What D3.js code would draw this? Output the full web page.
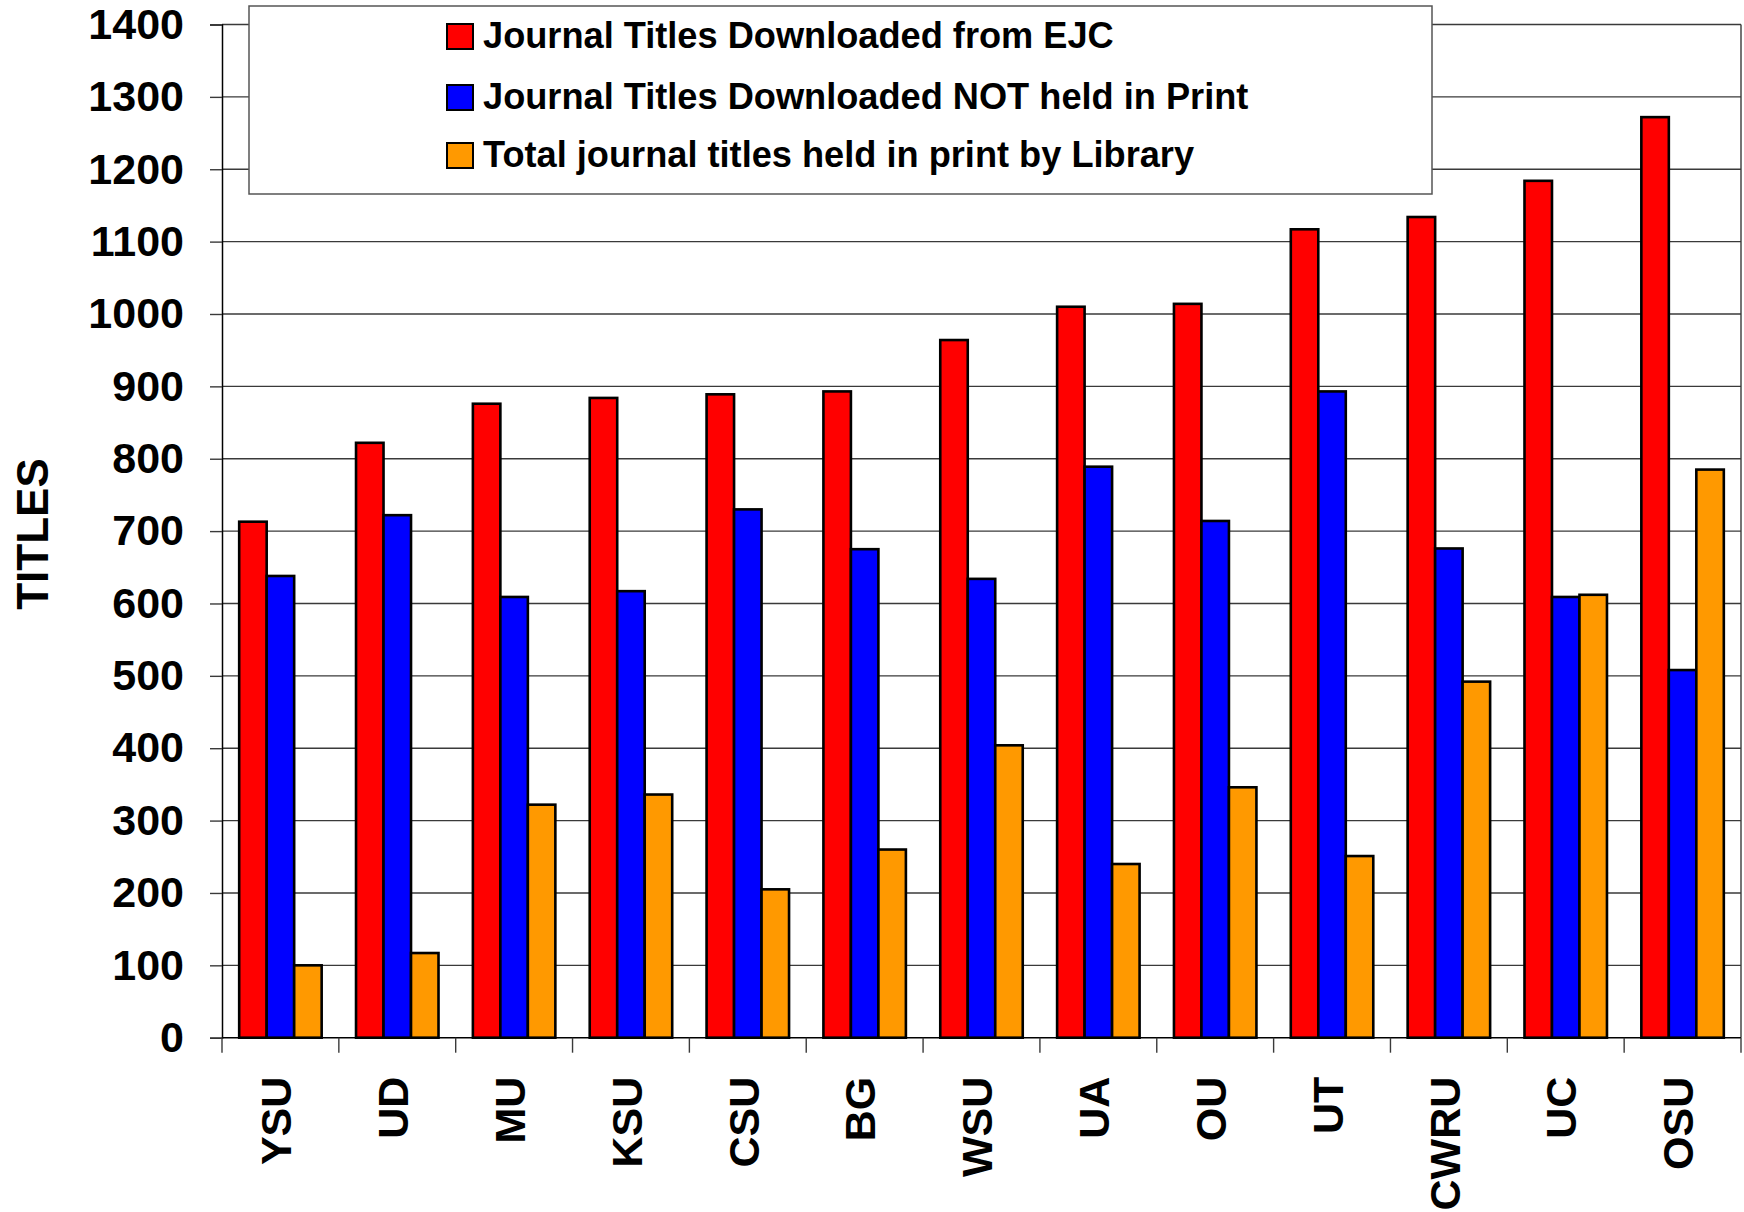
<!DOCTYPE html>
<html>
<head>
<meta charset="utf-8">
<script src="https://cdn.jsdelivr.net/npm/d3@7"></script>
<style>
  html, body { margin: 0; padding: 0; background: #fff; }
  svg { display: block; }
  text { font-family: "Liberation Sans", Arial, sans-serif; font-weight: bold; fill: #000; }
</style>
</head>
<body>
<svg id="chart" width="1744" height="1212"></svg>
<script>
  const categories = ["YSU", "UD", "MU", "KSU", "CSU", "BG", "WSU", "UA", "OU", "UT", "CWRU", "UC", "OSU"];
  const downloaded = [713, 822, 876, 884, 889, 893, 964, 1010, 1014, 1117, 1134, 1184, 1272];
  const notInPrint = [638, 722, 609, 617, 730, 675, 634, 789, 714, 893, 676, 609, 508];
  const heldInPrint = [100, 117, 322, 336, 205, 260, 404, 240, 346, 251, 492, 612, 785];
  const seriesNames = [
    "Journal Titles Downloaded from EJC",
    "Journal Titles Downloaded NOT held in Print",
    "Total journal titles held in print by Library"
  ];
  const yTicks = d3.range(0, 1401, 100);

  const colors = ["#ff0000", "#0000ff", "#ff9900"];
  const seriesValues = [downloaded, notInPrint, heldInPrint];

  const svg = d3.select("#chart");
  const plot = { left: 222, right: 1741, top: 24.5, bottom: 1037.7 };

  const x = d3.scaleBand().domain(categories).range([plot.left, plot.right]);
  const x1 = d3.scaleBand().domain(d3.range(3)).range([0, x.bandwidth()]).paddingOuter(0.625);
  const y = d3.scaleLinear().domain([0, 1400]).range([plot.bottom, plot.top]);

  // gridlines
  svg.append("g")
    .selectAll("line")
    .data(yTicks.filter((t) => t > 0))
    .join("line")
    .attr("x1", plot.left)
    .attr("x2", plot.right)
    .attr("y1", (t) => y(t))
    .attr("y2", (t) => y(t))
    .attr("stroke", "#3a3a3a")
    .attr("stroke-width", 1.4);

  // right border of plot area
  svg.append("line")
    .attr("x1", plot.right).attr("x2", plot.right)
    .attr("y1", plot.top).attr("y2", plot.bottom)
    .attr("stroke", "#3a3a3a")
    .attr("stroke-width", 1.4);

  // bars
  const rows = categories.map((c, i) => ({ cat: c, values: seriesValues.map((s) => s[i]) }));
  svg.append("g")
    .selectAll("g")
    .data(rows)
    .join("g")
    .attr("transform", (d) => `translate(${x(d.cat)},0)`)
    .selectAll("rect")
    .data((d) => d.values.map((v, k) => ({ v, k })))
    .join("rect")
    .attr("x", (d) => x1(d.k))
    .attr("width", x1.bandwidth())
    .attr("y", (d) => y(d.v))
    .attr("height", (d) => y(0) - y(d.v))
    .attr("fill", (d) => colors[d.k])
    .attr("stroke", "#000")
    .attr("stroke-width", 2.6);

  // y axis
  const yAxis = svg.append("g")
    .attr("transform", `translate(${plot.left},0)`)
    .call(d3.axisLeft(y).tickValues(yTicks).tickSize(12).tickPadding(26).tickFormat(d3.format("d")));
  yAxis.select(".domain").attr("stroke", "#000").attr("stroke-width", 1.5);
  yAxis.selectAll(".tick line").attr("stroke", "#3a3a3a").attr("stroke-width", 1.4);
  yAxis.selectAll(".tick text")
    .attr("font-size", 43)
    .attr("font-family", "'Liberation Sans', Arial, sans-serif")
    .attr("font-weight", "bold")
    .attr("fill", "#000");

  // x axis baseline and boundary ticks
  svg.append("line")
    .attr("x1", plot.left).attr("x2", plot.right)
    .attr("y1", plot.bottom).attr("y2", plot.bottom)
    .attr("stroke", "#000").attr("stroke-width", 1.5);

  const bounds = categories.map((c) => x(c)).concat([plot.right]);
  svg.append("g")
    .selectAll("line")
    .data(bounds)
    .join("line")
    .attr("x1", (d) => d).attr("x2", (d) => d)
    .attr("y1", plot.bottom).attr("y2", plot.bottom + 15)
    .attr("stroke", "#3a3a3a").attr("stroke-width", 1.4);

  const xAxis = svg.append("g")
    .attr("transform", `translate(0,${plot.bottom})`)
    .call(d3.axisBottom(x).tickSize(0));
  xAxis.select(".domain").remove();
  xAxis.selectAll(".tick text")
    .attr("font-size", 43)
    .attr("font-family", "'Liberation Sans', Arial, sans-serif")
    .attr("font-weight", "bold")
    .attr("fill", "#000")
    .attr("text-anchor", "end")
    .attr("transform", "rotate(-90)")
    .attr("x", -39)
    .attr("y", 0)
    .attr("dy", "0.25em");

  // y axis title
  svg.append("text")
    .attr("transform", "translate(48,534) rotate(-90)")
    .attr("text-anchor", "middle")
    .attr("font-size", 44)
    .text("TITLES");

  // legend
  const legend = svg.append("g");
  legend.append("rect")
    .attr("x", 249).attr("y", 6)
    .attr("width", 1183).attr("height", 188)
    .attr("fill", "#fff")
    .attr("stroke", "#555")
    .attr("stroke-width", 1.5);

  const legendRows = [36.5, 97.5, 155.5];
  const item = legend.selectAll("g.item")
    .data(seriesNames)
    .join("g")
    .attr("class", "item")
    .attr("transform", (d, i) => `translate(447,${legendRows[i]})`);
  item.append("rect")
    .attr("x", 0).attr("y", -12.5)
    .attr("width", 26).attr("height", 25)
    .attr("fill", (d, i) => colors[i])
    .attr("stroke", "#000")
    .attr("stroke-width", 2);
  item.append("text")
    .attr("x", 36)
    .attr("y", 11)
    .attr("font-size", 36.2)
    .text((d) => d);
</script>
</body>
</html>
